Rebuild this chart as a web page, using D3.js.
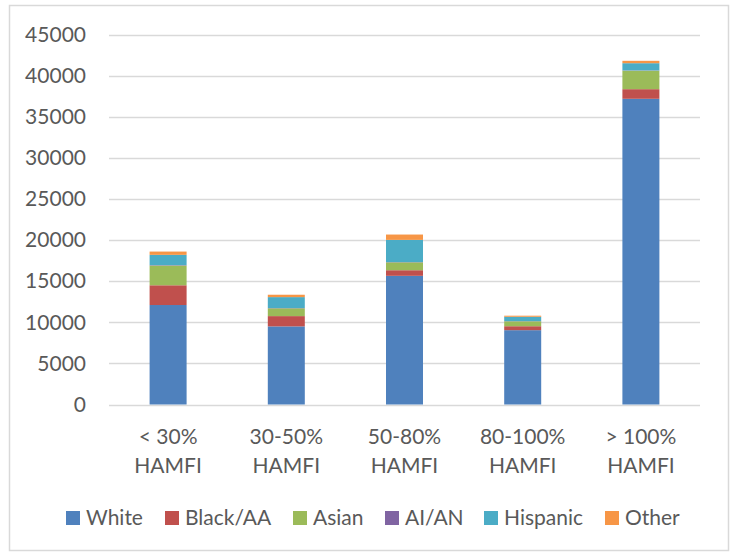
<!DOCTYPE html>
<html>
<head>
<meta charset="utf-8">
<script src="https://cdn.jsdelivr.net/npm/d3@7/dist/d3.min.js"></script>
<style>
  html, body { margin: 0; padding: 0; background: #fff; }
  svg { display: block; }
  text { font-family: Lato, "Open Sans", "Liberation Sans", sans-serif; fill: #595959; }
</style>
</head>
<body>
<svg id="chart" width="733" height="553"></svg>
<script>
// Households by income band (HAMFI), stacked by race/ethnicity
const categories = [["< 30%", "HAMFI"], ["30-50%", "HAMFI"], ["50-80%", "HAMFI"], ["80-100%", "HAMFI"], ["> 100%", "HAMFI"]];
const seriesNames = ["White", "Black/AA", "Asian", "AI/AN", "Hispanic", "Other"];
const white    = [12100, 9500, 15650, 9040, 37180];
const blackAA  = [2400, 1250, 680, 480, 1170];
const asian    = [2400, 950, 960, 600, 2250];
const aian     = [50, 30, 30, 20, 30];
const hispanic = [1250, 1330, 2700, 530, 880];
const other    = [400, 290, 650, 130, 290];
const yTicks   = [0, 5000, 10000, 15000, 20000, 25000, 30000, 35000, 40000, 45000];
const colors   = ["#4f81bd", "#c0504d", "#9bbb59", "#8064a2", "#4bacc6", "#f79646"];

const seriesValues = [white, blackAA, asian, aian, hispanic, other];
const rows = categories.map((c, i) => {
  const r = { key: i };
  seriesNames.forEach((s, j) => { r[s] = seriesValues[j][i]; });
  return r;
});

const svg = d3.select("#chart");
const fontSize = 21;

// outer frame
svg.append("rect")
  .attr("x", 9.5).attr("y", 5.5).attr("width", 719).attr("height", 545)
  .attr("fill", "none").attr("stroke", "#d9d9d9").attr("stroke-width", 1.5);

const plot = { left: 109, right: 700, top: 34.5, bottom: 404.5 };

const x = d3.scaleBand().domain(d3.range(categories.length))
  .range([plot.left, plot.right]).padding(0);
const y = d3.scaleLinear().domain([0, 45000]).range([plot.bottom, plot.top]);
const barW = 37;

// gridlines
svg.append("g").selectAll("line").data(yTicks).join("line")
  .attr("x1", plot.left).attr("x2", plot.right)
  .attr("y1", d => Math.round(y(d)) + 0.5).attr("y2", d => Math.round(y(d)) + 0.5)
  .attr("stroke", "#d9d9d9").attr("stroke-width", 1.5);

// y axis labels
const yAxis = d3.axisLeft(y).tickValues(yTicks).tickSize(0).tickPadding(0).tickFormat(d3.format("d"));
const gy = svg.append("g").attr("transform", `translate(86,0)`).call(yAxis);
gy.select(".domain").remove();
gy.selectAll("text").attr("font-size", fontSize).style("fill", "#595959")
  .style("font-family", "Lato, 'Open Sans', sans-serif");

// stacked bars
const stack = d3.stack().keys(seriesNames)(rows);
svg.append("g").selectAll("g").data(stack).join("g")
  .attr("fill", (d, i) => colors[i])
  .selectAll("rect").data(d => d).join("rect")
  .attr("x", (d, i) => x(i) + x.bandwidth() / 2 - barW / 2)
  .attr("width", barW)
  .attr("y", d => y(d[1]))
  .attr("height", d => Math.max(0, y(d[0]) - y(d[1])));

// category labels
const xl = svg.append("g");
categories.forEach((c, i) => {
  const cx = x(i) + x.bandwidth() / 2;
  const t = xl.append("text").attr("text-anchor", "middle").attr("font-size", fontSize);
  t.append("tspan").attr("x", cx).attr("y", 444).text(c[0]);
  t.append("tspan").attr("x", cx).attr("y", 473).text(c[1]);
});

// legend
const legendX = [66, 165, 293, 385, 484, 605];
const lg = svg.append("g");
seriesNames.forEach((s, i) => {
  lg.append("rect").attr("x", legendX[i]).attr("y", 511).attr("width", 14).attr("height", 14)
    .attr("fill", colors[i]);
  lg.append("text").attr("x", legendX[i] + 20).attr("y", 525).attr("font-size", fontSize).text(s);
});
</script>
</body>
</html>
